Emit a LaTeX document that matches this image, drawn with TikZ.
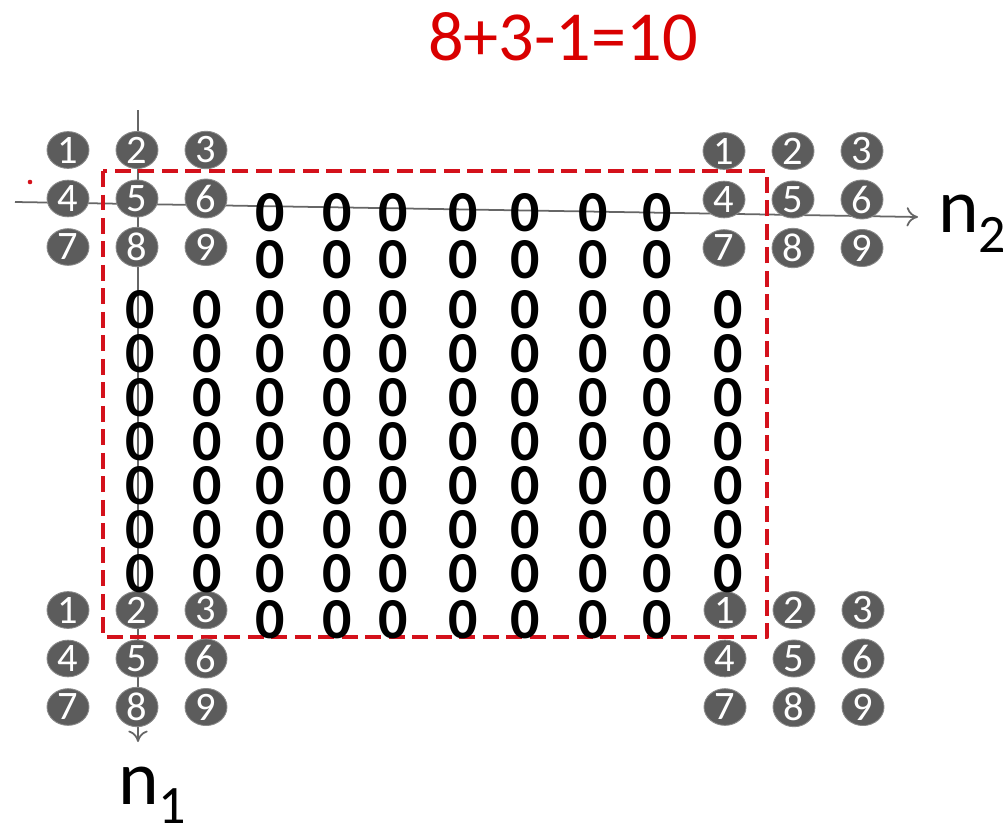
\documentclass[tikz,border=0pt]{standalone}
\usepackage{fontspec}
\setmainfont{Carlito}
\usetikzlibrary{shapes.geometric,arrows.meta}
\definecolor{cbox}{HTML}{D4111B}
\definecolor{cidx}{HTML}{5C5C5C}
\definecolor{cedge}{HTML}{8A8A8A}
\definecolor{caxis}{HTML}{666666}
\tikzset{
  idx/.style={ellipse,fill=cidx,draw=cedge,line width=0.5pt,minimum width=0.84cm,
    minimum height=0.56cm,inner sep=0pt,text=white,font=\fontsize{23}{23}\selectfont},
  zero/.style={inner sep=0pt,font=\fontsize{33}{33}\selectfont\bfseries},
  axis/.style={caxis,line width=1pt},
  lab/.style={inner sep=0pt,anchor=base west,font=\fontsize{44}{48}\selectfont}
}

\begin{document}
\begin{tikzpicture}[x=0.02cm,y=-0.02cm,>={To[length=6.5pt,width=11pt]}]
  \useasboundingbox (0,0) rectangle (1003,832);
  \node[red!85!black,inner sep=0pt,anchor=base,font=\fontsize{40}{40}\selectfont] (eq) at (563,60) {8+3-1=10};
  \fill[cbox] (30,182) circle (1.3pt);
  % axes
  \coordinate (h0) at (15,202);
  \coordinate (h1) at (918,217);
  \coordinate (v0) at (138,110);
  \coordinate (v1) at (138,742);
  \draw[axis,->] (h0) -- (h1);
  \draw[axis,->] (v0) -- (v1);
  \node[lab] (n2) at (938,232) {n\textsubscript{2}};
  \node[lab] (n1) at (118,804) {n\textsubscript{1}};
  \draw[cbox,line width=2.4pt,dash pattern=on 0.32cm off 0.15cm,line join=round] (103,171) rectangle (767,637);
  % kernels at the four corners
  \foreach \g/\gx/\gy in {tl/68/150,tr/724/151,bl/68/610,br/725/610}
    \foreach \r in {0,1,2}
      \foreach \k in {0,1,2}{
        \pgfmathtruncatemacro\num{3*\r+\k+1}
        \node[idx] (\g\num) at (\gx+69*\k,\gy+48.5*\r) {\num};
      }
  % zero padding
  \foreach \x [count=\j] in {140,207,270,337,393,463,525,593,657,728}
    \foreach \i in {0,...,6}
      \node[zero] (z\i-\j) at (\x,310+44*\i) {0};
  \foreach \x [count=\j from 3] in {270,337,393,463,525,593,657}{
    \node[zero] (ta\j) at (\x,213) {0};
    \node[zero] (tb\j) at (\x,260) {0};
    \node[zero] (bb\j) at (\x,620) {0};
  }
\end{tikzpicture}
\end{document}
